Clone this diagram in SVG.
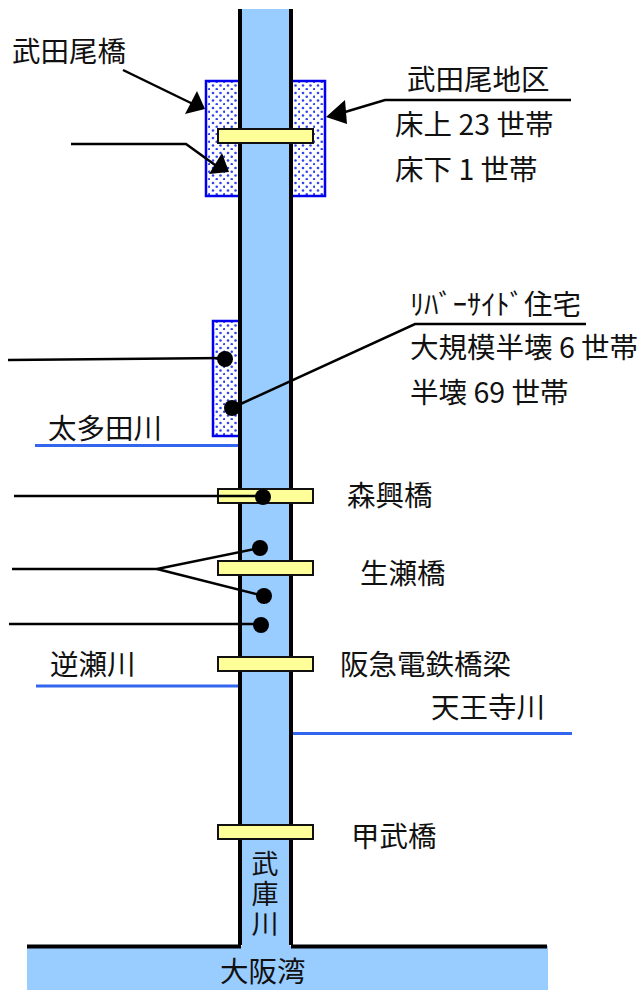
<svg xmlns="http://www.w3.org/2000/svg" width="641" height="990" viewBox="0 0 641 990">
<defs>
<style>
text{font-family:"Noto Sans CJK JP","Liberation Sans",sans-serif;font-size:28.5px;fill:#111}
.v{font-size:27px;writing-mode:vertical-rl;letter-spacing:3px}
.bank{stroke:#000;stroke-width:4;fill:none}
.river{stroke:#3366ee;stroke-width:3;fill:none}
.line{stroke:#000;stroke-width:2.5;fill:none}
.area{fill:url(#dots);stroke:#0000ee;stroke-width:2.5}
.bridge{fill:#ffff99;stroke:#111;stroke-width:2}
</style>
<pattern id="dots" width="15" height="15" patternUnits="userSpaceOnUse">
<rect width="15" height="15" fill="#fff"/>
<circle cx="3" cy="3" r="1.3" fill="#3344ee"/><circle cx="10.500" cy="3" r="1.3" fill="#3344ee"/>
<circle cx="6.750" cy="6.750" r="1.3" fill="#3344ee"/><circle cx="14.250" cy="6.750" r="1.3" fill="#3344ee"/>
<circle cx="3" cy="10.500" r="1.3" fill="#3344ee"/><circle cx="10.500" cy="10.500" r="1.3" fill="#3344ee"/>
<circle cx="6.750" cy="14.250" r="1.3" fill="#3344ee"/><circle cx="14.250" cy="14.250" r="1.3" fill="#3344ee"/>
</pattern>
</defs>
<g id="bay"><rect x="27" y="946" width="521" height="44" fill="#99ccff"/><text x="220" y="982">大阪湾</text></g>
<g id="areas">
<rect id="area-takedao-left" class="area" x="206" y="81" width="34" height="115"/>
<rect id="area-takedao-right" class="area" x="291" y="81" width="34" height="115"/>
<rect id="area-riverside" class="area" x="213" y="321" width="28" height="115"/>
</g>
<g id="kawa">
<rect x="242" y="9" width="48" height="940" fill="#99ccff"/>
<path class="bank" d="M240 9V945"/><path class="bank" d="M291 9V945"/>
<path class="bank" d="M27 946.500H241"/><path class="bank" d="M291 946.500H547"/>
<text class="v" x="265" y="850">武庫川</text>
</g>
<g id="rivers">
<path class="river" d="M35 445.500H238"/><path class="river" d="M36 686H238"/><path class="river" d="M293 733.500H572"/>
<text x="48" y="439">太多田川</text><text x="50" y="675">逆瀬川</text><text x="431" y="718">天王寺川</text>
</g>
<g id="bridges">
<g id="b1"><rect class="bridge" x="218" y="129" width="95" height="14"/></g>
<g id="b2"><rect class="bridge" x="218" y="489" width="95" height="14"/><text x="347" y="506">森興橋</text></g>
<g id="b3"><rect class="bridge" x="218" y="561" width="95" height="14"/><text x="360" y="584">生瀬橋</text></g>
<g id="b4"><rect class="bridge" x="218" y="657" width="95" height="14"/><text x="340" y="675">阪急電鉄橋梁</text></g>
<g id="b5"><rect class="bridge" x="218" y="825" width="95" height="14"/><text x="351" y="847">甲武橋</text></g>
</g>
<g id="connectors">
<path class="line" d="M123 70L195 105"/><path d="M205 109L185 114L197 91Z"/>
<path class="line" d="M71 144H186L222 170"/><path d="M229 172L209 174L222 153Z"/>
<path class="line" d="M571 100H385L335 115"/><path d="M326 117L345 100L347 124Z"/>
<path class="line" d="M8 360L225 358"/><circle cx="225" cy="359" r="8"/>
<path class="line" d="M586 324H415L232 408"/><circle cx="232" cy="408" r="8"/>
<path class="line" d="M14 496H263"/><circle cx="263" cy="497" r="8"/>
<path class="line" d="M12 569H157L260 548"/><path class="line" d="M157 569L264 596"/>
<circle cx="260" cy="548" r="8"/><circle cx="264" cy="596" r="8"/>
<path class="line" d="M9 624H261"/><circle cx="261" cy="625" r="8"/>
</g>
<g id="labels">
<text x="12" y="62">武田尾橋</text>
<text x="407" y="90">武田尾地区</text>
<text x="395" y="135">床上 23 世帯</text>
<text x="395" y="180">床下 1 世帯</text>
<text x="410" y="315">ﾘﾊﾞｰｻｲﾄﾞ住宅</text>
<text x="410" y="358">大規模半壊 6 世帯</text>
<text x="410" y="403">半壊 69 世帯</text>
</g>
</svg>
